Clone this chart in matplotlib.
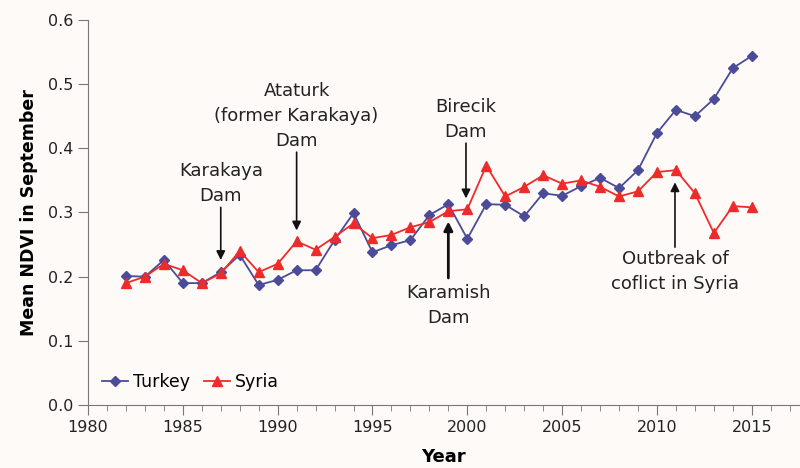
import numpy as np
import matplotlib
matplotlib.use('Agg')
import matplotlib.pyplot as plt
from matplotlib.ticker import MultipleLocator

# mean September NDVI per year
years = list(range(1982, 2016))
turkey = [0.201, 0.200, 0.226, 0.190, 0.190, 0.207, 0.234, 0.187, 0.195, 0.210,
          0.210, 0.257, 0.299, 0.238, 0.249, 0.257, 0.296, 0.313, 0.259, 0.313,
          0.312, 0.294, 0.330, 0.326, 0.341, 0.354, 0.338, 0.366, 0.424, 0.460,
          0.450, 0.477, 0.525, 0.544]
syria = [0.190, 0.200, 0.220, 0.210, 0.190, 0.205, 0.240, 0.207, 0.220, 0.255,
         0.242, 0.262, 0.283, 0.260, 0.265, 0.277, 0.285, 0.302, 0.305, 0.373,
         0.325, 0.340, 0.358, 0.345, 0.350, 0.340, 0.325, 0.333, 0.363, 0.366,
         0.330, 0.268, 0.310, 0.308]

# events: text, year, arrow tail y, arrow head y, gap to text
events = [
    ('Karakaya\nDam', 1987, 0.308, 0.226, 0.004),
    ('Ataturk\n(former Karakaya)\nDam', 1991, 0.394, 0.272, 0.004),
    ('Birecik\nDam', 1999.93, 0.408, 0.322, 0.004),
    ('Karamish\nDam', 1999, 0.198, 0.286, 0.010),
    ('Outbreak of\ncoflict in Syria', 2010.95, 0.246, 0.347, 0.004),
]

bg = '#fdfaf7'
fig = plt.figure(figsize=(8, 4.68), dpi=100, facecolor=bg)
ax = fig.add_axes([0.11, 0.1346, 0.889, 0.8227])
ax.set_facecolor(bg)

ax.plot(years, turkey, color='#4b4b98', marker='D', markersize=4.8, lw=1.3, label='Turkey')
ax.plot(years, syria, color='#ee2b2b', marker='^', markersize=6.5, lw=1.3, label='Syria')

for txt, yr, y0, y1, gap in events:
    lw = 2.0 if txt.startswith('Karamish') else 1.2
    ax.annotate('', xy=(yr, y1), xytext=(yr, y0),
                arrowprops=dict(arrowstyle='-|>', color='#111111', lw=lw,
                                mutation_scale=13, shrinkA=0, shrinkB=0))
    if y0 > y1:
        ax.text(yr, y0 + gap, txt, ha='center', va='bottom', fontsize=13,
                color='#222222', linespacing=1.5)
    else:
        ax.text(yr, y0 - gap, txt, ha='center', va='top', fontsize=13,
                color='#222222', linespacing=1.5)

ax.set_xlim(1980, 2017.5)
ax.set_ylim(0, 0.6)
ax.xaxis.set_major_locator(MultipleLocator(5))
ax.xaxis.set_minor_locator(MultipleLocator(1))
ax.yaxis.set_major_locator(MultipleLocator(0.1))
ax.yaxis.set_major_formatter(matplotlib.ticker.FormatStrFormatter('%.1f'))

for s in ['top', 'right']:
    ax.spines[s].set_visible(False)
for s in ['left', 'bottom']:
    ax.spines[s].set_color('#777777')
ax.tick_params(axis='both', which='major', length=7, color='#777777', labelsize=11.5,
               labelcolor='#222222')
ax.tick_params(axis='x', which='minor', length=4, color='#777777')

ax.set_xlabel('Year', fontsize=13, fontweight='bold', labelpad=10)
ax.set_ylabel('Mean NDVI in September', fontsize=12.5, fontweight='bold', labelpad=7)

ax.legend(loc='lower left', ncol=2, frameon=False, fontsize=12.5, handlelength=1.5,
          handletextpad=0.3, columnspacing=0.8, borderaxespad=0.4)

fig.savefig('out.png', dpi=100, facecolor=bg)
